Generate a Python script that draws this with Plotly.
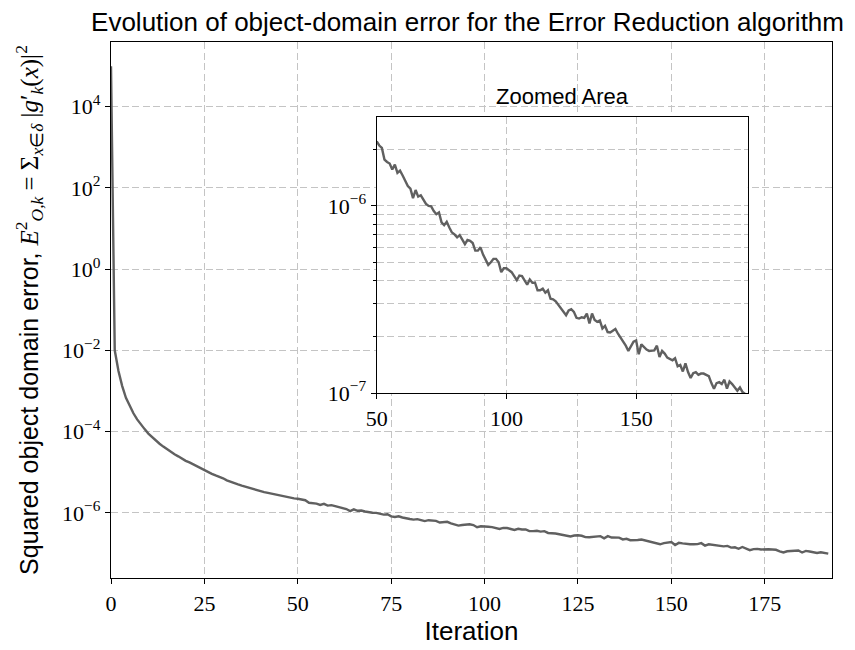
import plotly.graph_objects as go

# Iteration index and squared object-domain error (stored as log10 values)
iterations = list(range(0, 193))
log10_error = [
    4.99, -2.00, -2.51, -2.88, -3.17, -3.37, -3.55, -3.70, -3.83, -3.94,
    -4.05, -4.14, -4.23, -4.30, -4.37, -4.44, -4.50, -4.56, -4.61, -4.67,
    -4.72, -4.76, -4.81, -4.85, -4.90, -4.94, -4.99, -5.04, -5.08, -5.11,
    -5.15, -5.20, -5.24, -5.26, -5.30, -5.33, -5.36, -5.39, -5.42, -5.44,
    -5.47, -5.49, -5.51, -5.53, -5.55, -5.58, -5.60, -5.62, -5.63, -5.645,
    -5.655, -5.677, -5.690, -5.752, -5.765, -5.773, -5.805, -5.779, -5.823, -5.811,
    -5.837, -5.862, -5.894, -5.908, -5.958, -5.915, -5.950, -5.943, -5.968, -5.989,
    -6.000, -6.002, -6.027, -6.044, -6.035, -6.088, -6.103, -6.085, -6.115, -6.142,
    -6.152, -6.168, -6.156, -6.181, -6.204, -6.182, -6.186, -6.198, -6.239, -6.239,
    -6.221, -6.260, -6.292, -6.315, -6.301, -6.283, -6.283, -6.301, -6.354, -6.333,
    -6.333, -6.342, -6.354, -6.375, -6.397, -6.372, -6.375, -6.398, -6.421, -6.393,
    -6.411, -6.409, -6.451, -6.451, -6.442, -6.464, -6.451, -6.496, -6.499, -6.510,
    -6.527, -6.549, -6.566, -6.584, -6.559, -6.552, -6.566, -6.598, -6.602, -6.595,
    -6.598, -6.575, -6.628, -6.575, -6.609, -6.619, -6.612, -6.655, -6.641, -6.674,
    -6.676, -6.669, -6.658, -6.683, -6.704, -6.722, -6.747, -6.775, -6.747, -6.726,
    -6.719, -6.793, -6.740, -6.754, -6.768, -6.775, -6.775, -6.772, -6.747, -6.807,
    -6.775, -6.789, -6.811, -6.818, -6.825, -6.814, -6.857, -6.850, -6.885, -6.841,
    -6.888, -6.920, -6.894, -6.888, -6.903, -6.896, -6.896, -6.903, -6.910, -6.947,
    -6.977, -6.947, -6.942, -6.952, -6.929, -6.977, -6.938, -6.952, -6.973, -6.988,
    -6.970, -6.995, -7.005,
]
error = [10 ** v for v in log10_error]

zoom_start = 50
zoom_iterations = iterations[zoom_start:]
zoom_error = error[zoom_start:]

main_xticks = [0, 25, 50, 75, 100, 125, 150, 175]
main_yticks = [1e-6, 1e-4, 1e-2, 1e0, 1e2, 1e4]
main_ytext = ["10<sup>\u22126</sup>", "10<sup>\u22124</sup>", "10<sup>\u22122</sup>",
              "10<sup>0</sup>", "10<sup>2</sup>", "10<sup>4</sup>"]
inset_xticks = [50, 100, 150]
inset_yticks = [1e-7, 1e-6]
inset_ytext = ["10<sup>\u22127</sup>", "10<sup>\u22126</sup>"]
inset_minor = [2e-7, 3e-7, 4e-7, 5e-7, 6e-7, 7e-7, 8e-7, 9e-7, 2e-6]

LINE = "#606060"
GRID = "#c4c4c4"
SANS = "Liberation Sans"
SERIF = "Liberation Serif"

fig = go.Figure()
fig.add_trace(go.Scatter(x=iterations, y=error, mode="lines",
                         line=dict(color=LINE, width=2.4),
                         xaxis="x", yaxis="y", showlegend=False))
fig.add_trace(go.Scatter(x=zoom_iterations, y=zoom_error, mode="lines",
                         line=dict(color=LINE, width=2.4),
                         xaxis="x2", yaxis="y2", showlegend=False))

axis_common = dict(showline=True, linecolor="black", linewidth=1.3, mirror=True,
                   ticks="outside", ticklen=5, tickwidth=1.3, tickcolor="black",
                   showgrid=True, gridcolor=GRID, gridwidth=1, griddash="7px,3.5px",
                   zeroline=False, tickfont=dict(family=SERIF, size=22, color="black"))

fig.update_layout(
    width=855, height=650,
    margin=dict(l=111, r=23, t=42, b=69),
    paper_bgcolor="white", plot_bgcolor="white",
    title=dict(text="Evolution of object-domain error for the Error Reduction algorithm",
               font=dict(family=SANS, size=26, color="black"),
               x=0.4945, xanchor="center", y=1 - 22 / 650, yanchor="middle",
               xref="paper"),
    xaxis=dict(range=[0, 193], tickvals=main_xticks, domain=[0, 1],
               title=dict(text="Iteration", font=dict(family=SANS, size=26, color="black"),
                          standoff=4),
               **axis_common),
    yaxis=dict(type="log", range=[-7.605, 5.59], tickvals=main_yticks, ticktext=main_ytext,
               domain=[0, 1],
               title=dict(text="Squared object domain error, "
                               "<span style=\"font-family:'Liberation Serif'\">"
                               "<i>E</i><sup>2</sup><sub><i>O,k</i></sub> = "
                               "\u03a3<sub><i>x</i>\u2208<i>\u03b4</i></sub> "
                               "|<i>g</i>\u2032<sub><i>k</i></sub>(<i>x</i>)|<sup>2</sup></span>",
                          font=dict(family=SANS, size=25, color="black"), standoff=16),
               **axis_common),
    xaxis2=dict(range=[50, 193], tickvals=inset_xticks, anchor="y2",
                domain=[0.3685, 0.8831], **axis_common),
    yaxis2=dict(type="log", range=[-7, -5.524], tickvals=inset_yticks, ticktext=inset_ytext,
                anchor="x2", domain=[0.3451, 0.8603],
                minor=dict(tickvals=inset_minor, ticks="outside", ticklen=3,
                           tickcolor="black", showgrid=True, gridcolor=GRID,
                           griddash="7px,3.5px", gridwidth=1),
                **axis_common),
    annotations=[dict(text="Zoomed Area", xref="paper", yref="paper",
                      x=0.6258, y=(581 - 97) / 539, xanchor="center", yanchor="middle",
                      showarrow=False, font=dict(family=SANS, size=22, color="black"))],
)

fig.write_html("out.html")
